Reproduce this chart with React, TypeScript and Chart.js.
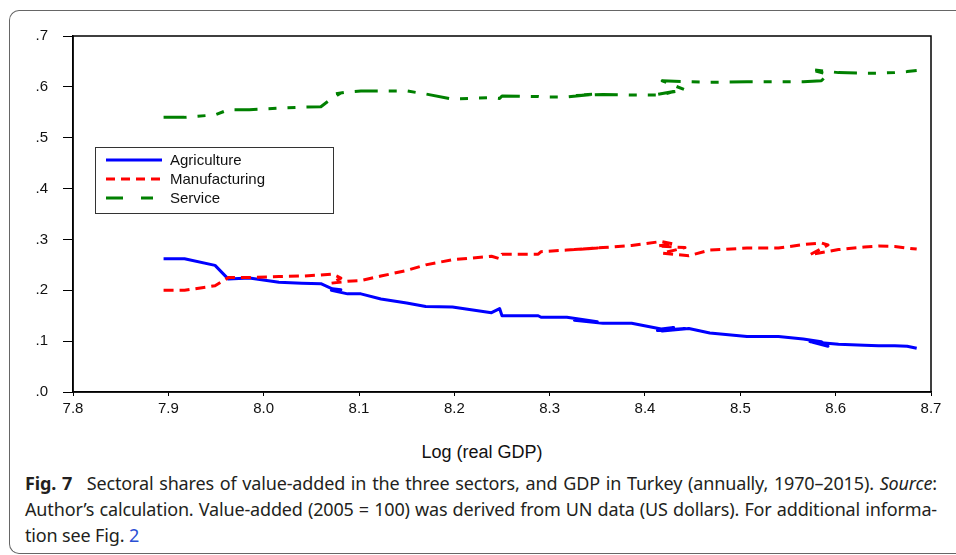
import { useEffect, useRef } from 'react';
import { Chart, registerables } from 'chart.js';

Chart.register(...registerables);

// Log (real GDP), annually 1970–2015
const logGDP = [
  7.895, 7.917, 7.949, 7.963, 7.985, 8.016, 8.040, 8.060, 8.072, 8.081,
  8.071, 8.088, 8.102, 8.123, 8.150, 8.170, 8.198, 8.239, 8.2475, 8.250,
  8.288, 8.291, 8.318, 8.350, 8.326, 8.356, 8.386, 8.417, 8.430, 8.413,
  8.442, 8.418, 8.446, 8.468, 8.507, 8.540, 8.566, 8.585, 8.592, 8.573,
  8.603, 8.630, 8.645, 8.662, 8.675, 8.685,
];

const agriculture = [
  0.262, 0.262, 0.249, 0.222, 0.224, 0.216, 0.214, 0.213, 0.203, 0.201,
  0.200, 0.193, 0.193, 0.183, 0.175, 0.168, 0.167, 0.156, 0.164, 0.150,
  0.150, 0.147, 0.147, 0.138, 0.141, 0.135, 0.135, 0.124, 0.127, 0.121,
  0.125, 0.120, 0.125, 0.116, 0.109, 0.109, 0.104, 0.099, 0.090, 0.099,
  0.094, 0.092, 0.091, 0.091, 0.090, 0.086,
];

const manufacturing = [
  0.200, 0.200, 0.209, 0.225, 0.225, 0.227, 0.228, 0.230, 0.232, 0.224,
  0.214, 0.218, 0.219, 0.228, 0.239, 0.250, 0.260, 0.267, 0.262, 0.271,
  0.271, 0.276, 0.279, 0.283, 0.280, 0.284, 0.288, 0.296, 0.291, 0.287,
  0.284, 0.273, 0.268, 0.279, 0.283, 0.283, 0.290, 0.293, 0.289, 0.270,
  0.280, 0.285, 0.287, 0.286, 0.283, 0.281,
];

const service = [
  0.540, 0.540, 0.545, 0.555, 0.555, 0.558, 0.560, 0.561, 0.578, 0.588,
  0.585, 0.590, 0.592, 0.592, 0.592, 0.586, 0.576, 0.579, 0.577, 0.582,
  0.581, 0.580, 0.580, 0.586, 0.583, 0.585, 0.584, 0.584, 0.591, 0.585,
  0.594, 0.612, 0.610, 0.609, 0.610, 0.610, 0.610, 0.612, 0.625, 0.634,
  0.628, 0.627, 0.627, 0.628, 0.630, 0.632,
];

const seriesLabels = ['Agriculture', 'Manufacturing', 'Service'];
const xMin = 7.8;
const xMax = 8.7;
const yMin = 0;
const yMax = 0.7;
const tickStep = 0.1;
const xTitle = 'Log (real GDP)';

const TICK_FONT = { family: '"Liberation Sans", Arial, sans-serif', size: 15 };

const framePlugin = {
  id: 'frameAndLegend',
  afterDatasetsDraw(chart: any) {
    const { ctx, chartArea: a } = chart;
    ctx.save();
    // plot frame
    ctx.strokeStyle = '#000';
    ctx.lineWidth = 1.5;
    ctx.strokeRect(a.left, a.top, a.right - a.left, a.bottom - a.top);

    // legend box
    const bx = a.left + 22;
    const by = a.top + 111;
    const bw = 238;
    const bh = 66;
    ctx.fillStyle = '#fff';
    ctx.fillRect(bx, by, bw, bh);
    ctx.strokeStyle = '#333';
    ctx.lineWidth = 1;
    ctx.strokeRect(bx + 0.5, by + 0.5, bw, bh);

    const legendDash = [[], [9, 6], [17, 18, 12, 100]];
    chart.data.datasets.forEach((ds: any, i: number) => {
      const y = by + 13 + i * 19;
      ctx.beginPath();
      ctx.setLineDash(legendDash[i]);
      ctx.strokeStyle = ds.borderColor;
      ctx.lineWidth = 3;
      ctx.moveTo(bx + 11, y);
      ctx.lineTo(bx + 67, y);
      ctx.stroke();
      ctx.setLineDash([]);
      ctx.fillStyle = '#111';
      ctx.font = '15px "Liberation Sans", Arial, sans-serif';
      ctx.textBaseline = 'middle';
      ctx.textAlign = 'left';
      ctx.fillText(ds.label, bx + 75, y + 0.5);
    });
    ctx.restore();
  },
};

function ChartCanvas() {
  const ref = useRef<HTMLCanvasElement | null>(null);
  useEffect(() => {
    if (!ref.current) return;
    const pts = (arr: number[]) => logGDP.map((x, i) => ({ x, y: arr[i] }));
    const chart = new Chart(ref.current, {
      type: 'scatter',
      data: {
        datasets: [
          {
            label: seriesLabels[0],
            data: pts(agriculture),
            borderColor: '#0000FF',
            backgroundColor: '#0000FF',
            borderWidth: 3,
            showLine: true,
            pointRadius: 0,
            tension: 0,
            order: 2,
          },
          {
            label: seriesLabels[1],
            data: pts(manufacturing),
            borderColor: '#FF0000',
            backgroundColor: '#FF0000',
            borderWidth: 3,
            borderDash: [10, 6],
            showLine: true,
            pointRadius: 0,
            tension: 0,
            order: 1,
          },
          {
            label: seriesLabels[2],
            data: pts(service),
            borderColor: '#008000',
            backgroundColor: '#008000',
            borderWidth: 3,
            borderDash: [23, 11, 8, 11, 8, 11],
            showLine: true,
            pointRadius: 0,
            tension: 0,
            order: 0,
          },
        ],
      },
      options: {
        animation: false,
        responsive: false,
        devicePixelRatio: 1,
        layout: { padding: { left: 0, top: 36, right: 25, bottom: 0 } },
        elements: { line: { borderCapStyle: 'butt', borderJoinStyle: 'round' } },
        plugins: { legend: { display: false }, tooltip: { enabled: false }, title: { display: false } },
        scales: {
          x: {
            type: 'linear',
            min: xMin,
            max: xMax,
            afterFit: (s: any) => { s.height = 38; },
            ticks: {
              stepSize: tickStep,
              font: TICK_FONT,
              color: '#111',
              padding: 4,
              maxRotation: 0,
              callback: (v: any) => Number(v).toFixed(1),
            },
            grid: { display: true, drawOnChartArea: false, drawTicks: true, tickLength: 4, color: '#000', lineWidth: 1 },
            border: { display: true, color: '#000', width: 1.5 },
          },
          y: {
            type: 'linear',
            min: yMin,
            max: yMax,
            afterFit: (s: any) => { s.width = 73; },
            ticks: {
              stepSize: tickStep,
              font: TICK_FONT,
              color: '#111',
              padding: 15,
              callback: (v: any) => (Math.round(Number(v) * 10) / 10).toFixed(1).replace(/^0/, ''),
            },
            grid: { display: true, drawOnChartArea: false, drawTicks: true, tickLength: 10, color: '#000', lineWidth: 1 },
            border: { display: true, color: '#000', width: 1.5 },
          },
        },
      },
      plugins: [framePlugin],
    });
    return () => chart.destroy();
  }, []);
  return <canvas ref={ref} width={956} height={430} style={{ position: 'absolute', left: 0, top: 0, width: 956, height: 430 }} />;
}

export default function App() {
  const capFont = '"Noto Sans", "Open Sans", sans-serif';
  const lineStyle: any = {
    whiteSpace: 'nowrap',
    textAlign: 'justify',
    textAlignLast: 'justify',
    height: 26,
  };
  return (
    <div style={{ position: 'fixed', left: 0, top: 0, width: 956, height: 555, overflow: 'hidden', background: '#fff' }}>
      <div
        style={{
          position: 'absolute',
          left: 9,
          top: 10,
          width: 1000,
          height: 544,
          borderTop: '1.5px solid #666',
          borderLeft: '1.5px solid #666',
          borderBottom: '1.5px solid #666',
          borderTopLeftRadius: 10,
          borderBottomLeftRadius: 10,
          boxSizing: 'border-box',
        }}
      />
      <ChartCanvas />
      <div
        style={{
          position: 'absolute',
          left: 0,
          width: 964,
          top: 441,
          textAlign: 'center',
          font: '18px "Liberation Sans", Arial, sans-serif',
          color: '#111',
          lineHeight: '22px',
        }}
      >
        {xTitle}
      </div>
      <div
        style={{
          position: 'absolute',
          left: 25,
          width: 912,
          top: 470,
          fontFamily: capFont,
          fontSize: 18,
          letterSpacing: '-0.15px',
          lineHeight: '26px',
          color: '#231f20',
        }}
      >
        <div style={lineStyle}>
          <b>Fig. 7</b>{'\u2002'} Sectoral shares of value-added in the three sectors, and GDP in Turkey (annually, 1970–2015). <i>Source</i>:
        </div>
        <div style={lineStyle}>
          Author’s calculation. Value-added (2005 = 100) was derived from UN data (US dollars). For additional informa-
        </div>
        <div style={{ whiteSpace: 'nowrap', height: 26 }}>
          tion see Fig. <span style={{ color: '#2b50d4' }}>2</span>
        </div>
      </div>
    </div>
  );
}
